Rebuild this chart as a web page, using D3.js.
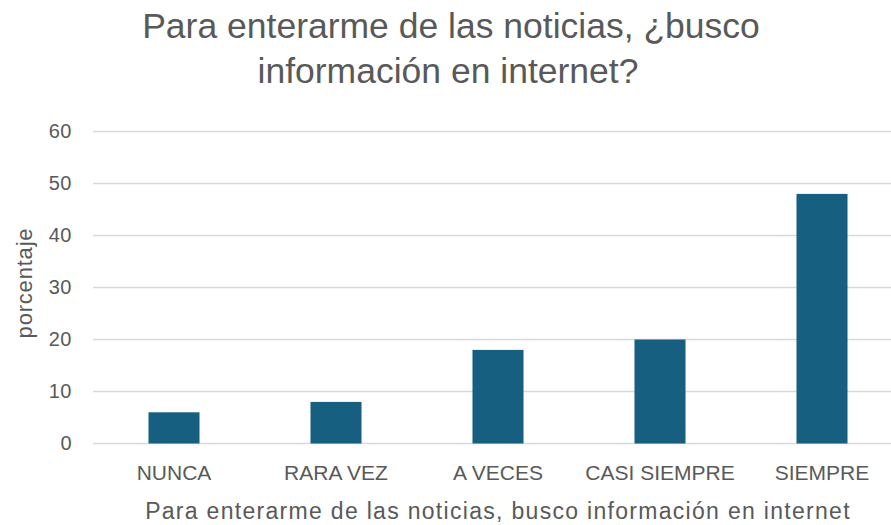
<!DOCTYPE html>
<html>
<head>
<meta charset="utf-8">
<script src="https://cdn.jsdelivr.net/npm/d3@7"></script>
<style>
  body { margin: 0; background: #fff; }
  svg text { font-family: "Liberation Sans", Arial, sans-serif; fill: #595959; }
</style>
</head>
<body>
<div id="chart"></div>
<script>
var categories = ["NUNCA", "RARA VEZ", "A VECES", "CASI SIEMPRE", "SIEMPRE"];
var porcentajes = [6, 8, 18, 20, 48];
var yTicks = [0, 10, 20, 30, 40, 50, 60];
var titleLines = ["Para enterarme de las noticias, ¿busco", "información en internet?"];
var xTitle = "Para enterarme de las noticias, busco información en internet";
var yTitle = "porcentaje";

var width = 891, height = 525;
var margin = {top: 131.5, right: -12, bottom: 81, left: 93};

var svg = d3.select("#chart").append("svg")
    .attr("width", width)
    .attr("height", height);

var xScale = d3.scaleBand()
    .domain(categories)
    .range([margin.left, width - margin.right])
    .paddingInner(0.685)
    .paddingOuter(0.3425);

var yScale = d3.scaleLinear()
    .domain([0, 60])
    .range([height - margin.bottom - 0.5, margin.top]);

// gridlines
svg.append("g")
    .selectAll("line")
    .data(yTicks)
    .enter().append("line")
    .attr("x1", margin.left)
    .attr("x2", width - margin.right)
    .attr("y1", d => yScale(d))
    .attr("y2", d => yScale(d))
    .attr("stroke", "#d9d9d9")
    .attr("stroke-width", 1.3);

var yAxis = d3.axisLeft(yScale).tickValues(yTicks).tickSize(0).tickPadding(0);
svg.append("g")
    .attr("transform", "translate(72,0)")
    .call(yAxis)
    .call(g => g.select(".domain").remove())
    .selectAll("text")
    .style("font-size", "20px")
    .style("letter-spacing", "0.5px")
    .attr("fill", "#595959");

svg.selectAll(".bar")
    .data(porcentajes)
    .enter().append("rect")
    .attr("class", "bar")
    .attr("x", (d, i) => xScale(categories[i]))
    .attr("y", d => yScale(d))
    .attr("width", xScale.bandwidth())
    .attr("height", d => yScale(0) - yScale(d))
    .attr("fill", "#175f80");

var xAxis = d3.axisBottom(xScale).tickSize(0).tickPadding(0);
svg.append("g")
    .attr("transform", "translate(0," + (yScale(0) + 22) + ")")
    .call(xAxis)
    .call(g => g.select(".domain").remove())
    .selectAll("text")
    .style("font-size", "21px")
    .attr("fill", "#595959");

svg.append("text")
    .attr("x", 498)
    .attr("y", 519)
    .style("text-anchor", "middle")
    .style("font-size", "23px")
    .style("letter-spacing", "1.3px")
    .text(xTitle);

svg.append("text")
    .attr("transform", "rotate(-90)")
    .attr("x", -283)
    .attr("y", 32)
    .style("text-anchor", "middle")
    .style("font-size", "22px")
    .style("letter-spacing", "0.8px")
    .text(yTitle);

svg.selectAll(".title")
    .data(titleLines)
    .enter().append("text")
    .attr("class", "title")
    .attr("x", (d, i) => i === 0 ? 451 : 448)
    .attr("y", (d, i) => 38 + i * 45)
    .style("text-anchor", "middle")
    .style("font-size", "35.5px")
    .text(d => d);
</script>
</body>
</html>
